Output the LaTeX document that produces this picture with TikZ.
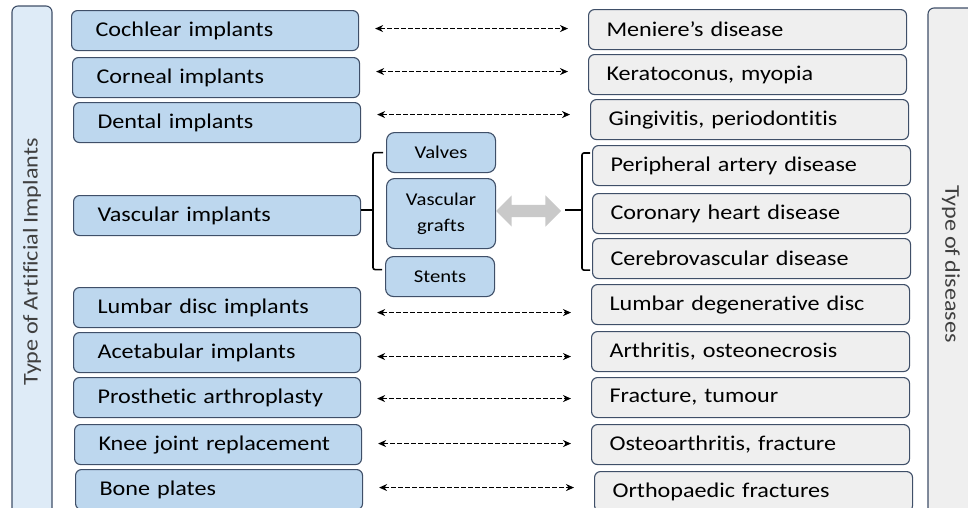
\documentclass[tikz,border=0pt]{standalone}
\usepackage{fontspec}
\setmainfont{Carlito}[FakeStretch=1.15,Ligatures=CommonOff,WordSpace=0.85]
\usetikzlibrary{arrows.meta,shapes.arrows}
\definecolor{implfill}{HTML}{BDD7EE}
\definecolor{barfill}{HTML}{DEEBF7}
\definecolor{disfill}{HTML}{EFEFEF}
\definecolor{edge}{HTML}{3F4F68}
\definecolor{swapgray}{HTML}{C9C9C9}
\definecolor{labelgray}{HTML}{404040}

\begin{document}
\begin{tikzpicture}[x=1pt,y=-1pt,
  implant/.style={anchor=north west,draw=edge,fill=implfill,line width=1.1pt,
    rounded corners=6pt,minimum width=287pt,minimum height=40pt,
    inner xsep=24pt,text width=239pt,align=left,font=\fontsize{21}{24}\selectfont},
  disease/.style={implant,fill=disfill,minimum width=318pt,inner xsep=18pt,text width=282pt},
  vessel/.style={implant,minimum width=109pt,inner xsep=4pt,text width=101pt,
    align=center,rounded corners=8pt,font=\fontsize{18}{26}\selectfont},
  sidebar/.style={anchor=center,draw=edge,line width=1.1pt,rounded corners=6pt,
    minimum width=512pt,text=labelgray,font=\fontsize{21}{24}\selectfont},
  link/.style={<->,>={Stealth[length=8pt,width=7pt]},dash pattern=on 4.5pt off 2.5pt,
    line width=1.6pt,shorten <=16pt,shorten >=20pt},
  brace/.style={line width=1.6pt,rounded corners=2pt}]
  \clip (0,0) rectangle (968,507);

  % side bars
  \node[sidebar,fill=barfill,rotate=90,minimum height=40pt] (implbar) at (32,262)
    {Type of Artificial Implants};
  \node[sidebar,fill=disfill,rotate=-90,minimum height=46pt] (disbar) at (951,264)
    {Type of diseases};

  % implants
  \node[implant] (cochlear) at (71,10) {Cochlear implants};
  \node[implant] (corneal) at (72,57) {Corneal implants};
  \node[implant] (dental) at (73,102) {Dental implants};
  \node[implant] (vascular) at (73,195) {Vascular implants};
  \node[implant] (lumbar) at (73,287) {Lumbar disc implants};
  \node[implant] (acetab) at (73,332) {Acetabular implants};
  \node[implant] (prosth) at (73,377) {Prosthetic arthroplasty};
  \node[implant] (knee) at (74,424) {Knee joint replacement};
  \node[implant] (plates) at (75,469) {Bone plates};

  \node[vessel] (valves) at (386,132) {Valves};
  \node[vessel,minimum height=70pt] (grafts) at (386,178) {Vascular\\grafts};
  \node[vessel] (stents) at (385,256) {Stents};

  % diseases
  \node[disease] (meniere) at (588,9) {Meniere’s disease};
  \node[disease] (kerato) at (588,54) {Keratoconus, myopia};
  \node[disease] (gingi) at (590,99) {Gingivitis, periodontitis};
  \node[disease] (periph) at (592,145) {Peripheral artery disease};
  \node[disease] (coronary) at (592,193) {Coronary heart disease};
  \node[disease] (cerebro) at (592,238) {Cerebrovascular disease};
  \node[disease] (degen) at (591,284) {Lumbar degenerative disc};
  \node[disease] (arthritis) at (591,331) {Arthritis, osteonecrosis};
  \node[disease] (fracture) at (591,377) {Fracture, tumour};
  \node[disease] (osteo) at (591,424) {Osteoarthritis, fracture};
  \node[disease] (ortho) at (594,471) {Orthopaedic fractures};

  % links
  \foreach \a/\b/\dy in {cochlear/meniere/2,corneal/kerato/6,dental/gingi/8,
      lumbar/degen/-5,acetab/arthritis/-4,prosth/fracture/-1,knee/osteo/1,plates/ortho/2}
    \draw[link] ([yshift=\dy pt]\a.east) -- ([yshift=\dy pt]\a.east -| \b.west);

  % vascular brackets
  \coordinate (lbrace) at (373,210);
  \draw[brace] ([xshift=-3pt]valves.west) -| (lbrace) |- ([xshift=-3pt,yshift=7pt]stents.west);
  \draw[brace] (vascular.east |- lbrace) -- (lbrace);
  \coordinate (rbrace) at (582,210);
  \draw[brace] ([xshift=-2pt,yshift=-8pt]periph.north west) -| (rbrace)
    |- ([xshift=-2pt,yshift=9pt]cerebro.south west);
  \draw[brace] (rbrace) -- ++(-17,0);
  \node[double arrow,fill=swapgray,inner sep=6pt,minimum height=65pt,
    double arrow head extend=9.5pt] (swap) at (528.5,211) {};
\end{tikzpicture}
\end{document}
